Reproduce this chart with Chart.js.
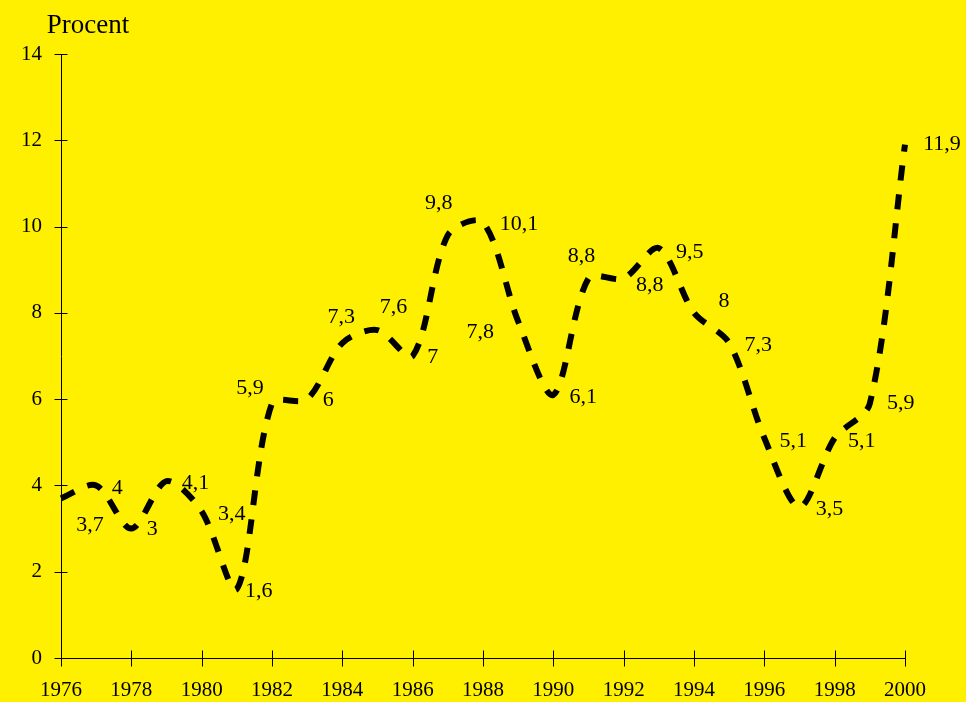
<!DOCTYPE html>
<html>
<head>
<meta charset="utf-8">
<script src="https://cdn.jsdelivr.net/npm/chart.js@4/dist/chart.umd.min.js"></script>
<style>
  html, body { margin: 0; padding: 0; background: #FFF000; }
  #c { display: block; }
</style>
</head>
<body>
<canvas id="c" width="966" height="702"></canvas>
<script>
// ---- data ----
const years = [1976,1977,1978,1979,1980,1981,1982,1983,1984,1985,1986,1987,1988,1989,1990,1991,1992,1993,1994,1995,1996,1997,1998,1999,2000];
const values = [3.7,4,3,4.1,3.4,1.6,5.9,6,7.3,7.6,7,9.8,10.1,7.8,6.1,8.8,8.8,9.5,8,7.3,5.1,3.5,5.1,5.9,11.9];
const yTickValues = [0,2,4,6,8,10,12,14];
const xTickValues = [1976,1978,1980,1982,1984,1986,1988,1990,1992,1994,1996,1998,2000];
const axisTitle = 'Procent';

// label placement (offset of label centre from its point, px)
const labelOffsets = [
  [29,27],[21,3],[21,1],[29,2],[30,3],[22,2],[-22,-15],[21,1],[-1,-26],[16,-23],
  [20,1],[-9,-32],[36,2],[-38,11],[30,2],[-7,-22],[26,7],[31,4],[30,-12],[29,2],
  [29,3],[30,2],[27,3],[31,0],[37,0]
];

const SERIF = '"Liberation Serif", "Times New Roman", serif';
const points = years.map((y, i) => ({ x: y, y: values[i] }));

const bgPlugin = {
  id: 'bg',
  beforeDraw(chart) {
    const ctx = chart.ctx;
    ctx.save();
    ctx.fillStyle = '#FFF000';
    ctx.fillRect(0, 0, chart.width, chart.height);
    ctx.restore();
  }
};

const ticksPlugin = {
  id: 'crossTicks',
  afterDraw(chart) {
    const ctx = chart.ctx;
    const xs = chart.scales.x, ys = chart.scales.y;
    const left = Math.round(chart.chartArea.left) + 0.5;
    const bottom = Math.round(chart.chartArea.bottom) + 0.5;
    ctx.save();
    ctx.strokeStyle = '#000';
    ctx.lineWidth = 1;
    ctx.beginPath();
    yTickValues.forEach(v => {
      const py = Math.round(ys.getPixelForValue(v)) + 0.5;
      ctx.moveTo(left - 7, py); ctx.lineTo(left + 6, py);
    });
    xTickValues.forEach(v => {
      const px = Math.round(xs.getPixelForValue(v)) + 0.5;
      ctx.moveTo(px, bottom - 8); ctx.lineTo(px, bottom + 8);
    });
    ctx.stroke();
    // title
    ctx.fillStyle = '#000';
    ctx.font = '27px ' + SERIF;
    ctx.textAlign = 'center';
    ctx.textBaseline = 'alphabetic';
    ctx.fillText(axisTitle, 88, 33);
    ctx.restore();
  }
};

const labelsPlugin = {
  id: 'pointLabels',
  afterDatasetsDraw(chart) {
    const ctx = chart.ctx;
    const meta = chart.getDatasetMeta(0);
    ctx.save();
    ctx.fillStyle = '#000';
    ctx.font = '22px ' + SERIF;
    ctx.textAlign = 'center';
    ctx.textBaseline = 'middle';
    meta.data.forEach((el, i) => {
      const txt = String(values[i]).replace('.', ',');
      const o = labelOffsets[i];
      ctx.fillText(txt, el.x + o[0], el.y + o[1]);
    });
    ctx.restore();
  }
};

new Chart(document.getElementById('c'), {
  type: 'line',
  data: {
    datasets: [{
      data: points,
      borderColor: '#000',
      borderWidth: 6,
      borderDash: [15, 14],
      borderCapStyle: 'butt',
      borderJoinStyle: 'round',
      tension: 0.3,
      pointRadius: 0,
      fill: false,
      clip: false
    }]
  },
  options: {
    responsive: false,
    devicePixelRatio: 1,
    animation: false,
    events: [],
    layout: { padding: { top: 54, right: 61, left: 0, bottom: 0 } },
    plugins: { legend: { display: false }, tooltip: { enabled: false }, title: { display: false } },
    scales: {
      x: {
        type: 'linear',
        min: 1976, max: 2000,
        afterFit(s) { s.height = 44; },
        afterBuildTicks(s) { s.ticks = xTickValues.map(v => ({ value: v })); },
        grid: { display: true, drawOnChartArea: false, drawTicks: false },
        border: { display: true, color: '#000', width: 1 },
        ticks: {
          color: '#000',
          font: { family: SERIF, size: 21 },
          padding: 20,
          maxRotation: 0,
          autoSkip: false,
          callback: v => String(v)
        }
      },
      y: {
        min: 0, max: 14,
        afterFit(s) { s.width = 61; },
        afterBuildTicks(s) { s.ticks = yTickValues.map(v => ({ value: v })); },
        grid: { display: true, drawOnChartArea: false, drawTicks: false },
        border: { display: true, color: '#000', width: 1 },
        ticks: {
          color: '#000',
          font: { family: SERIF, size: 21 },
          padding: 19,
          callback: v => String(v)
        }
      }
    }
  },
  plugins: [bgPlugin, ticksPlugin, labelsPlugin]
});
</script>
</body>
</html>
